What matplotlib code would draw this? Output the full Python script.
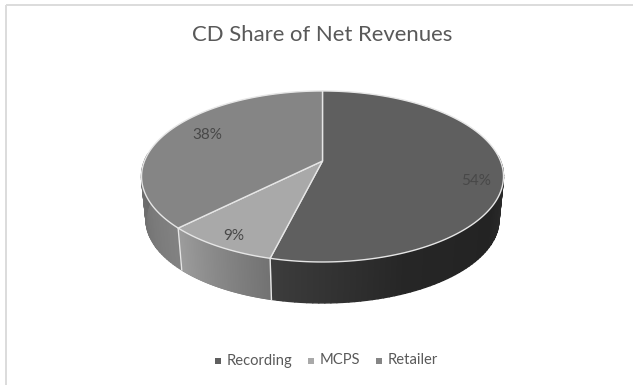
import numpy as np
import matplotlib
matplotlib.use("Agg")
import matplotlib.pyplot as plt
from matplotlib.collections import PolyCollection
from matplotlib.patches import Polygon, Rectangle

# Chart content
title = "CD Share of Net Revenues"
categories = ["Recording", "MCPS", "Retailer"]
shares = [53.9, 8.6, 37.5]
top_colors = ["#5f5f5f", "#a9a9a9", "#858585"]
# Wall shading stops, listed in the direction the slice runs (clockwise)
wall_stops = [
    ["#333333", "#232323", "#262626", "#3c3c3c"],
    ["#727272", "#9c9c9c"],
    ["#828282", "#686868"],
]

# Tilted-disc projection, in pixel units
CX, APEX_Y = 322.5, 161.0
RADIUS, DEPTH_SCALE, PERSP = 178.0, 82.7, 0.181
WALL_DROP, WALL_SHRINK = 43.5, 0.975


def inner(theta, frac=1.0):
    """Screen position on the top face; theta runs clockwise from twelve o'clock."""
    depth = frac * np.cos(theta)
    across = frac * np.sin(theta)
    w = 1 + PERSP * depth
    return CX + RADIUS * across / w, APEX_Y - DEPTH_SCALE * depth / w


def floor(theta):
    x, y = inner(theta)
    return CX + (x - CX) * WALL_SHRINK, APEX_Y + WALL_DROP + (y - APEX_Y) * WALL_SHRINK


def shade(stops, t):
    rgb = np.array([matplotlib.colors.to_rgb(c) for c in stops])
    pos = np.linspace(0, 1, len(stops))
    return [np.interp(t, pos, rgb[:, k]) for k in range(3)]


fig = plt.figure(figsize=(6.33, 3.85), dpi=100, facecolor="white")
ax = fig.add_axes([0, 0, 1, 1])
ax.set_xlim(0, 633)
ax.set_ylim(385, 0)
ax.axis("off")

# Chart frame, open towards the right and bottom of the canvas
ax.add_patch(Rectangle((6, 5), 700, 700, fill=False, ec="#dcdcdc", lw=1.4))

fractions = np.array(shares) / sum(shares)
edges = np.concatenate([[0.0], np.cumsum(fractions)]) * 2 * np.pi

# Side wall: narrow shaded strips along the visible rim
for i in range(len(shares)):
    a0, a1 = edges[i], edges[i + 1]
    thetas = np.linspace(a0, a1, 120)
    thetas = thetas[(thetas > np.radians(85)) & (thetas < np.radians(275))]
    quads, cols = [], []
    xs, ys = inner(thetas)
    fx, fy = floor(thetas)
    for j in range(len(thetas) - 1):
        quads.append([(xs[j], ys[j]), (xs[j + 1], ys[j + 1]), (fx[j + 1], fy[j + 1]), (fx[j], fy[j])])
        cols.append(shade(wall_stops[i], j / (len(thetas) - 2)))
    ax.add_collection(PolyCollection(quads, facecolors=cols, edgecolors=cols, linewidths=1.0, zorder=2))
    # Seam between neighbouring wall segments
    if a0 > np.radians(100):
        xa, ya = inner(a0)
        xb, yb = floor(a0)
        ax.plot([xa, xb], [ya, yb], color="#e6e6e6", lw=1.0, zorder=3)

# Top face
for i, color in enumerate(top_colors):
    thetas = np.linspace(edges[i], edges[i + 1], 200)
    xs, ys = inner(thetas)
    pts = np.column_stack([np.r_[CX, xs], np.r_[APEX_Y, ys]])
    ax.add_patch(Polygon(pts, closed=True, fc=color, ec="#e6e6e6", lw=1.0, joinstyle="round", zorder=4))

# Percentage labels: radial position and small angular nudge for each slice
label_radius = [0.856, 0.875, 0.78]
label_nudge = [7.0, 0.0, 5.5]
for i, share in enumerate(shares):
    mid = (edges[i] + edges[i + 1]) / 2 + np.radians(label_nudge[i])
    x, y = inner(mid, label_radius[i])
    ax.text(x, y + 2, f"{share:.0f}%", ha="center", va="center", family="Lato",
            fontsize=11, color="#484848", zorder=5)

ax.text(322.5, 35, title, ha="center", va="center", family="Lato", fontsize=15.9, color="#595959")

# Legend
marker_x = [218, 311, 379]
label_x = [227, 320, 388]
for name, color, mx, lx in zip(categories, top_colors, marker_x, label_x):
    ax.add_patch(Rectangle((mx - 3, 358), 6, 6, fc=color, ec="none"))
    ax.text(lx, 360.5, name, ha="left", va="center", family="Lato", fontsize=10.6, color="#595959")

fig.savefig("out.png", dpi=100, facecolor="white")
